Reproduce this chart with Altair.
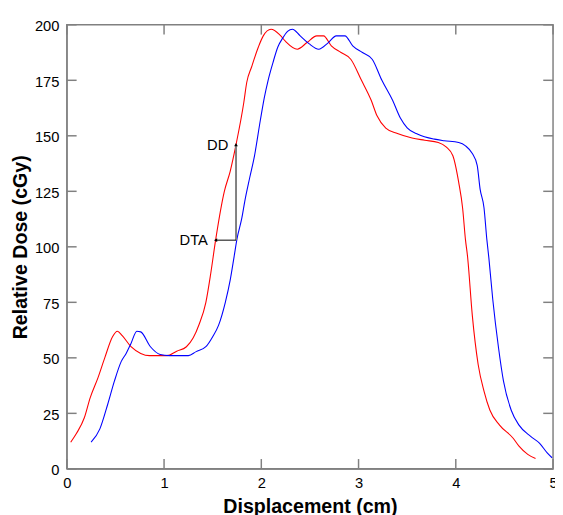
import altair as alt
import pandas as pd

# Reference (red) profile
red_x = [0.04, 0.10, 0.18, 0.24, 0.32, 0.39, 0.47, 0.52, 0.57, 0.66, 0.76, 0.85, 0.95, 1.03,
         1.13, 1.23, 1.30, 1.36, 1.43, 1.48, 1.53, 1.62, 1.68, 1.74, 1.82, 1.85, 1.90, 1.97,
         2.02, 2.10, 2.19, 2.25, 2.37, 2.47, 2.57, 2.64, 2.72, 2.82, 2.92, 3.03, 3.13, 3.19,
         3.28, 3.40, 3.55, 3.68, 3.82, 3.90, 3.97, 4.03, 4.07, 4.10, 4.12, 4.17, 4.23, 4.29,
         4.35, 4.45, 4.59, 4.65, 4.74, 4.82]
red_y = [12, 16, 23, 32, 41, 50, 59.5, 62, 60, 55, 52, 51, 51, 51,
         53, 55, 59, 65, 75, 88, 103, 125, 134, 146, 165, 174, 181, 190,
         195, 198, 195.5, 192.5, 189, 192, 195, 195, 190.5, 187.5, 184.5, 175, 166, 159,
         153.5, 151, 149, 148, 147, 145, 141, 129, 117.5, 103, 96, 69, 47, 35,
         26.5, 19.7, 13.8, 10.2, 6.5, 4.7]

# Shifted (blue) profile
blue_x = [0.25, 0.34, 0.42, 0.49, 0.56, 0.61, 0.66, 0.72, 0.76, 0.86, 0.96, 1.05, 1.15, 1.25,
          1.33, 1.43, 1.50, 1.56, 1.63, 1.68, 1.72, 1.75, 1.80, 1.83, 1.88, 1.93, 1.99, 2.03,
          2.07, 2.12, 2.17, 2.22, 2.27, 2.32, 2.40, 2.49, 2.59, 2.69, 2.77, 2.86, 2.94, 3.04,
          3.14, 3.24, 3.35, 3.43, 3.50, 3.61, 3.78, 3.88, 4.03, 4.10, 4.17, 4.22, 4.25, 4.29,
          4.32, 4.34, 4.38, 4.44, 4.49, 4.57, 4.65, 4.77, 4.86, 4.94, 4.99]
blue_y = [12, 18, 29, 39.6, 48.4, 52, 56.5, 62, 61.7, 55, 51.5, 51, 51, 51,
          52.8, 55, 59.5, 64.6, 75, 85, 95.5, 103.6, 113, 120.5, 131, 141, 157, 167,
          175, 183, 190, 194, 197, 198, 195, 191.5, 189, 192, 195, 195, 190.5, 187.5,
          184.5, 175, 166, 158, 153.6, 150.7, 148.5, 147.8, 147, 145.5, 142, 136.7, 126, 117.6,
          103, 95, 76.4, 54.3, 39.6, 26.4, 19.7, 14.6, 11.6, 7.2, 5]

x_ticks = [0, 1, 2, 3, 4, 5]
y_ticks = [0, 25, 50, 75, 100, 125, 150, 175, 200]

# Annotation values
dd_x = 1.74
dd_top = 146
dta_y = 103
dta_x = 1.53
ann_labels = ["DD", "DTA"]
ann_label_x = [1.66, 1.45]
ann_label_y = [146, 103]

W, H = 496, 453
FONT = "Liberation Sans"
GRAY = "#808080"

xs = alt.Scale(domain=[0, 5], nice=False, zero=False)
ys = alt.Scale(domain=[0, 200], nice=False, zero=False)

curves = pd.DataFrame({
    "x": red_x + blue_x,
    "y": red_y + blue_y,
    "s": ["red"] * len(red_x) + ["blue"] * len(blue_x),
})

base_x = alt.X("x:Q", scale=xs, title="Displacement (cm)",
               axis=alt.Axis(values=x_ticks, format="d", ticks=False, grid=False, domainColor=GRAY,
                             labelFont=FONT, labelFontSize=15, labelColor="black",
                             labelPadding=7, labelFlush=False,
                             titleFont=FONT, titleFontSize=20, titleFontWeight="bold",
                             titleColor="black", titlePadding=7))
base_y = alt.Y("y:Q", scale=ys, title="Relative Dose (cGy)",
               axis=alt.Axis(values=y_ticks, format="d", ticks=False, grid=False, domainColor=GRAY,
                             labelFont=FONT, labelFontSize=15, labelColor="black",
                             labelPadding=8, labelFlush=False, labelOffset=1,
                             titleFont=FONT, titleFontSize=20, titleFontWeight="bold",
                             titleColor="black", titlePadding=4))

lines = alt.Chart(curves).mark_line(strokeWidth=1.1, interpolate="monotone").encode(
    x=base_x, y=base_y,
    color=alt.Color("s:N", scale=alt.Scale(domain=["red", "blue"], range=["#ff0000", "#0000ff"]), legend=None),
    detail="s:N",
)

xt = pd.DataFrame({"x": x_ticks})
yt = pd.DataFrame({"y": y_ticks})
tick_style = dict(color=GRAY, strokeWidth=1.5)
xt_bottom = alt.Chart(xt).mark_rule(**tick_style).encode(
    x=alt.X("x:Q", scale=xs), y=alt.value(H), y2=alt.value(H - 10))
xt_top = alt.Chart(xt).mark_rule(**tick_style).encode(
    x=alt.X("x:Q", scale=xs), y=alt.value(0), y2=alt.value(10))
yt_left = alt.Chart(yt).mark_rule(**tick_style).encode(
    y=alt.Y("y:Q", scale=ys), x=alt.value(0), x2=alt.value(10))
yt_right = alt.Chart(yt).mark_rule(**tick_style).encode(
    y=alt.Y("y:Q", scale=ys), x=alt.value(W), x2=alt.value(W - 10))

vline = alt.Chart(pd.DataFrame({"x": [dd_x], "y": [dta_y], "y2": [dd_top]})).mark_rule(
    color=GRAY, strokeWidth=2).encode(x=alt.X("x:Q", scale=xs), y=alt.Y("y:Q", scale=ys), y2="y2:Q")
hline = alt.Chart(pd.DataFrame({"x": [dta_x], "x2": [dd_x], "y": [dta_y]})).mark_rule(
    color="black", strokeWidth=1).encode(x=alt.X("x:Q", scale=xs), x2="x2:Q", y=alt.Y("y:Q", scale=ys))
head_l = alt.Chart(pd.DataFrame({"x": [dta_x], "y": [dta_y]})).mark_point(
    shape="triangle-left", filled=True, color="black", size=14, opacity=1).encode(
    x=alt.X("x:Q", scale=xs), y=alt.Y("y:Q", scale=ys))
head_u = alt.Chart(pd.DataFrame({"x": [dd_x], "y": [dd_top]})).mark_point(
    shape="triangle-up", filled=True, color="black", size=14, opacity=1).encode(
    x=alt.X("x:Q", scale=xs), y=alt.Y("y:Q", scale=ys))
labels = alt.Chart(pd.DataFrame({"t": ann_labels, "x": ann_label_x, "y": ann_label_y})).mark_text(
    font=FONT, fontSize=15, align="right", baseline="middle", color="black").encode(
    x=alt.X("x:Q", scale=xs), y=alt.Y("y:Q", scale=ys), text="t:N")

chart = alt.layer(
    lines, xt_bottom, xt_top, yt_left, yt_right, vline, hline, head_l, head_u, labels
).properties(
    width=W, height=H,
    autosize=alt.AutoSizeParams(type="none"),
    padding={"left": 60, "top": 12, "right": 2, "bottom": 45},
).configure_view(stroke=GRAY, strokeWidth=1.5)

chart.save("out.html", embed_options={"renderer": "svg", "actions": False})
